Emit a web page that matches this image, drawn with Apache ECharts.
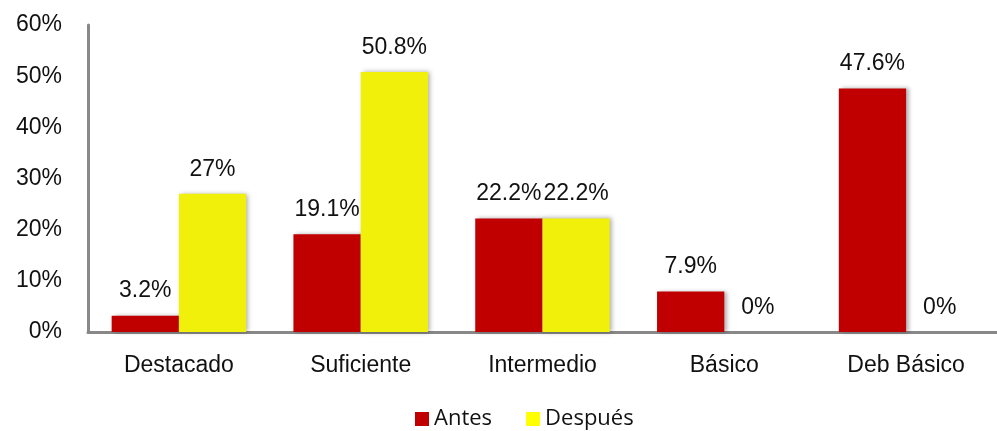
<!DOCTYPE html>
<html>
<head>
<meta charset="utf-8">
<script src="https://cdn.jsdelivr.net/npm/echarts@6/dist/echarts.min.js"></script>
<style>
  html, body { margin: 0; padding: 0; background: #fff; }
  #chart { width: 997px; height: 431px; }
</style>
</head>
<body>
<div id="chart"></div>
<script>
// Antes / Después por nivel de logro (porcentajes)
const categories = ['Destacado', 'Suficiente', 'Intermedio', 'Básico', 'Deb Básico']
const antes = [3.2, 19.1, 22.2, 7.9, 47.6]
const despues = [27, 50.8, 22.2, 0, 0]
const seriesNames = ['Antes', 'Después']

const FONT = '"Liberation Sans", Arial, sans-serif'
const chart = echarts.init(document.getElementById('chart'))

const labelStyle = {
  show: true,
  position: 'top',
  distance: 13,
  fontFamily: FONT,
  fontSize: 23,
  color: '#111',
  formatter: (p) => p.value + '%',
}

chart.setOption({
  backgroundColor: '#fff',
  animation: false,
  grid: { left: 88, right: 0, top: 25, bottom: 99 },
  legend: {
    bottom: -4,
    left: 410,
    itemWidth: 14,
    itemHeight: 14,
    itemGap: 34,
    textStyle: { fontFamily: '"Open Sans", sans-serif', fontSize: 22, color: '#111' },
    data: [
      { name: seriesNames[0], icon: 'rect', itemStyle: { color: '#C00000' } },
      { name: seriesNames[1], icon: 'rect', itemStyle: { color: '#FFFF00' } },
    ],
  },
  xAxis: {
    type: 'category',
    data: categories,
    axisLine: { lineStyle: { color: '#888', width: 3 } },
    axisTick: { show: false },
    axisLabel: {
      margin: 22,
      fontFamily: FONT,
      fontSize: 23,
      color: '#111',
    },
  },
  yAxis: {
    type: 'value',
    min: 0,
    max: 60,
    interval: 10,
    splitLine: { show: false },
    axisLine: { show: true, lineStyle: { color: '#888', width: 3 } },
    axisTick: { show: false },
    axisLabel: {
      margin: 26,
      fontFamily: FONT,
      fontSize: 23,
      color: '#111',
      formatter: (v) => v + '%',
    },
  },
  series: [
    {
      name: seriesNames[0],
      type: 'bar',
      data: antes,
      barWidth: '37%',
      barGap: '0%',
      itemStyle: {
        color: '#C00000',
        shadowColor: 'rgba(0,0,0,0.3)',
        shadowBlur: 4,
        shadowOffsetX: 3,
      },
      label: labelStyle,
    },
    {
      name: seriesNames[1],
      type: 'bar',
      data: despues,
      barWidth: '37%',
      itemStyle: {
        color: '#F0F00A',
        shadowColor: 'rgba(0,0,0,0.35)',
        shadowBlur: 5,
        shadowOffsetX: 2,
      },
      label: labelStyle,
    },
  ],
})
</script>
</body>
</html>
